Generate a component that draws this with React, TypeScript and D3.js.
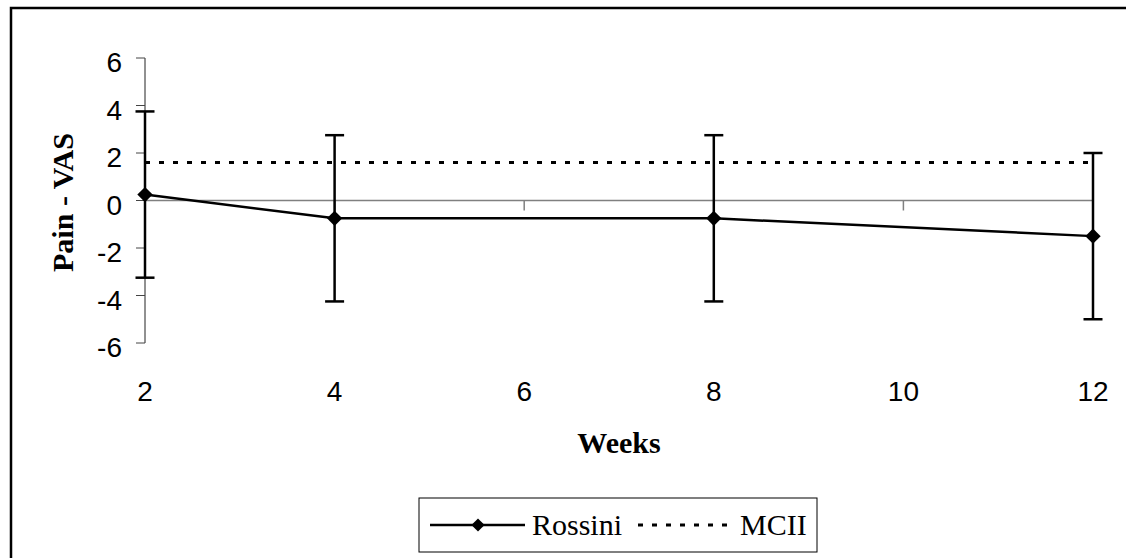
import React, { useEffect, useRef } from 'react';
import * as d3 from 'd3';

// chart values
const weeks = [2, 4, 8, 12];
const rossiniMean = [0.25, -0.75, -0.75, -1.5];
const rossiniError = [3.5, 3.5, 3.5, 3.5];
const mciiLevel = [1.6, 1.6];
const mciiWeeks = [2, 12];
const xTicks = [2, 4, 6, 8, 10, 12];
const yTicks = [-6, -4, -2, 0, 2, 4, 6];

const WIDTH = 1126;
const HEIGHT = 558;

const App: React.FC = () => {
    const svgRef = useRef<SVGSVGElement | null>(null);

    useEffect(() => {
        document.body.style.margin = '0';

        const svg = d3.select(svgRef.current)
            .attr('width', WIDTH)
            .attr('height', HEIGHT);

        svg.selectAll('*').remove();

        const plot = { left: 145, right: 1093, top: 58, bottom: 343 };

        const xScale = d3.scaleLinear().domain([2, 12]).range([plot.left, plot.right]);
        const yScale = d3.scaleLinear().domain([-6, 6]).range([plot.bottom, plot.top]);

        const sans = '"Liberation Sans", Arial, sans-serif';
        const serif = '"Liberation Serif", "Times New Roman", serif';

        // white background + outer frame (only top and left edges show)
        svg.append('rect')
            .attr('width', WIDTH).attr('height', HEIGHT).attr('fill', '#fff');
        svg.append('path')
            .attr('d', `M11,${HEIGHT} L11,8 L${WIDTH},8`)
            .attr('fill', 'none').attr('stroke', '#000').attr('stroke-width', 2.5);

        // y axis
        const yAxis = svg.append('g');
        yAxis.append('line')
            .attr('x1', plot.left).attr('x2', plot.left)
            .attr('y1', yScale(-6)).attr('y2', yScale(6))
            .attr('stroke', '#222').attr('stroke-width', 1);
        yAxis.selectAll('line.tick')
            .data(yTicks)
            .enter().append('line')
            .attr('class', 'tick')
            .attr('x1', plot.left - 9).attr('x2', plot.left)
            .attr('y1', d => yScale(d)).attr('y2', d => yScale(d))
            .attr('stroke', '#444').attr('stroke-width', 1);
        yAxis.selectAll('text')
            .data(yTicks)
            .enter().append('text')
            .attr('x', 122)
            .attr('y', d => yScale(d) + 14)
            .attr('text-anchor', 'end')
            .attr('font-family', sans)
            .attr('font-size', 28)
            .text(d => d);

        // zero line with x ticks hanging below
        svg.append('line')
            .attr('x1', xScale(2)).attr('x2', xScale(12))
            .attr('y1', yScale(0)).attr('y2', yScale(0))
            .attr('stroke', '#808080').attr('stroke-width', 1.5);
        svg.selectAll('line.xtick')
            .data(xTicks.slice(1))
            .enter().append('line')
            .attr('class', 'xtick')
            .attr('x1', d => xScale(d)).attr('x2', d => xScale(d))
            .attr('y1', yScale(0)).attr('y2', yScale(0) + 10)
            .attr('stroke', '#808080').attr('stroke-width', 1.5);

        // x tick labels sit below the plot
        svg.selectAll('text.xlabel')
            .data(xTicks)
            .enter().append('text')
            .attr('class', 'xlabel')
            .attr('x', d => xScale(d))
            .attr('y', 401)
            .attr('text-anchor', 'middle')
            .attr('font-family', sans)
            .attr('font-size', 28)
            .text(d => d);

        // axis titles
        svg.append('text')
            .attr('x', (plot.left + plot.right) / 2)
            .attr('y', 453)
            .attr('text-anchor', 'middle')
            .attr('font-family', serif)
            .attr('font-weight', 'bold')
            .attr('font-size', 30)
            .text('Weeks');
        svg.append('text')
            .attr('transform', `translate(73,${yScale(0) + 2}) rotate(-90)`)
            .attr('text-anchor', 'middle')
            .attr('font-family', serif)
            .attr('font-weight', 'bold')
            .attr('font-size', 30)
            .text('Pain - VAS');

        // MCII dotted line
        const mcii = mciiWeeks.map((w, i) => ({ x: w, y: mciiLevel[i] }));
        const line = d3.line<{ x: number; y: number }>()
            .x(d => xScale(d.x))
            .y(d => yScale(d.y));
        svg.append('path')
            .datum(mcii)
            .attr('fill', 'none')
            .attr('stroke', '#000')
            .attr('stroke-width', 3)
            .attr('stroke-dasharray', '5 9')
            .attr('d', line);

        // Rossini series
        const rossini = weeks.map((w, i) => ({ x: w, y: rossiniMean[i], e: rossiniError[i] }));
        svg.append('path')
            .datum(rossini)
            .attr('fill', 'none')
            .attr('stroke', '#000')
            .attr('stroke-width', 2.5)
            .attr('d', line);

        // error bars
        const bars = svg.append('g').attr('stroke', '#000').attr('stroke-width', 2.5);
        rossini.forEach(d => {
            const cx = xScale(d.x);
            const top = yScale(d.y + d.e);
            const bot = yScale(d.y - d.e);
            bars.append('line').attr('x1', cx).attr('x2', cx).attr('y1', top).attr('y2', bot);
            bars.append('line').attr('x1', cx - 9.5).attr('x2', cx + 9.5).attr('y1', top).attr('y2', top);
            bars.append('line').attr('x1', cx - 9.5).attr('x2', cx + 9.5).attr('y1', bot).attr('y2', bot);
        });

        // diamond markers
        const diamond = d3.symbol().type(d3.symbolDiamond2).size(150);
        svg.selectAll('path.marker')
            .data(rossini)
            .enter().append('path')
            .attr('class', 'marker')
            .attr('transform', d => `translate(${xScale(d.x)},${yScale(d.y)})`)
            .attr('d', diamond)
            .attr('fill', '#000');

        // legend
        const lg = svg.append('g');
        lg.append('rect')
            .attr('x', 419).attr('y', 498)
            .attr('width', 398).attr('height', 54)
            .attr('fill', '#fff').attr('stroke', '#000').attr('stroke-width', 1);
        const ly = 525;
        lg.append('line')
            .attr('x1', 430).attr('x2', 525).attr('y1', ly).attr('y2', ly)
            .attr('stroke', '#000').attr('stroke-width', 2.5);
        lg.append('path')
            .attr('transform', `translate(478,${ly})`)
            .attr('d', d3.symbol().type(d3.symbolDiamond2).size(110))
            .attr('fill', '#000');
        lg.append('text')
            .attr('x', 532).attr('y', ly + 10)
            .attr('font-family', serif).attr('font-size', 30)
            .text('Rossini');
        lg.append('line')
            .attr('x1', 638).attr('x2', 733).attr('y1', ly).attr('y2', ly)
            .attr('stroke', '#000').attr('stroke-width', 3)
            .attr('stroke-dasharray', '5 9');
        lg.append('text')
            .attr('x', 740).attr('y', ly + 10)
            .attr('font-family', serif).attr('font-size', 30)
            .text('MCII');
    }, []);

    return <svg ref={svgRef} style={{ display: 'block' }}></svg>;
};

export default App;
